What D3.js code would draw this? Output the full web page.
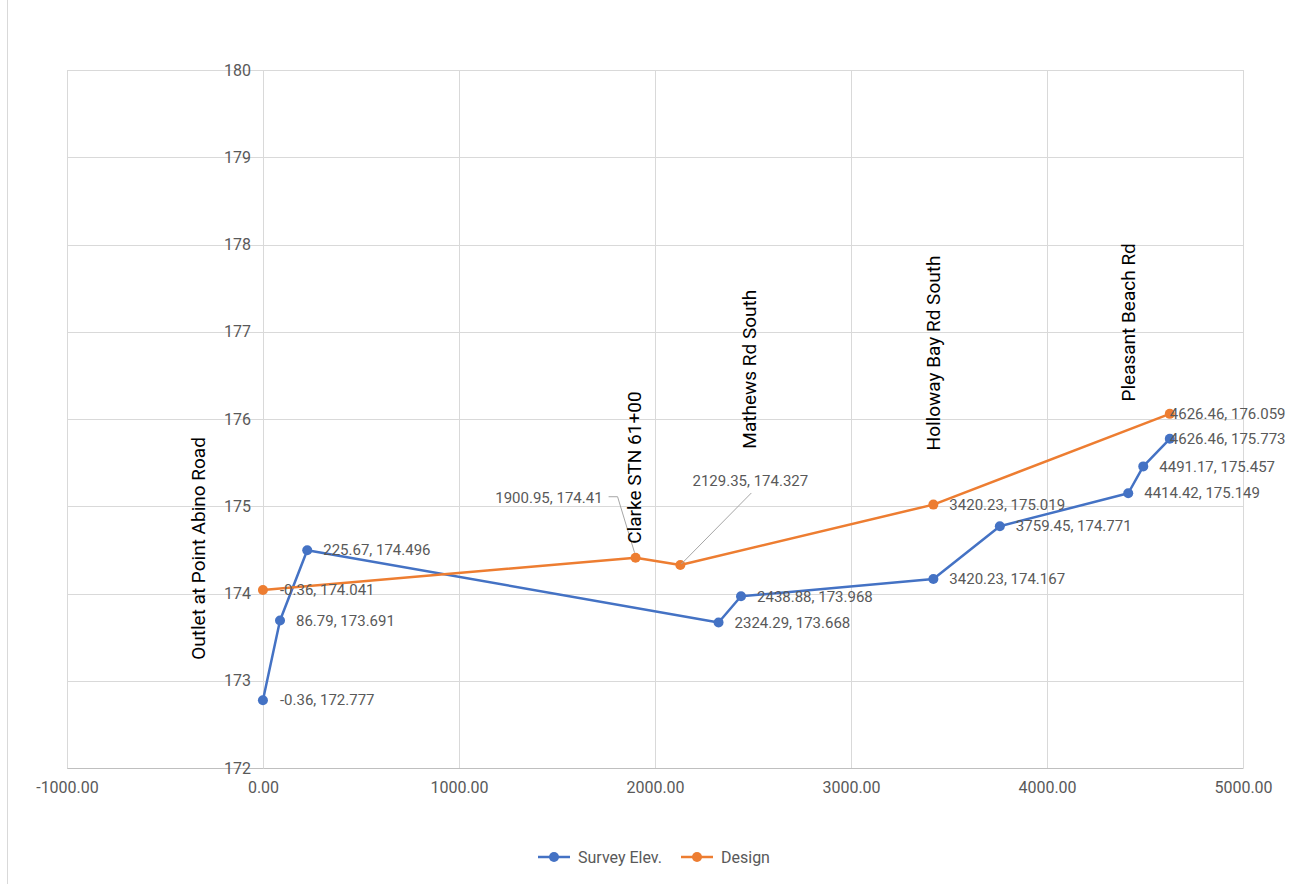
<!DOCTYPE html>
<html>
<head>
<meta charset="utf-8">
<script src="https://cdn.jsdelivr.net/npm/d3@7"></script>
<style>
  body { margin: 0; background: #fff; }
  #chart svg { display: block; }
</style>
</head>
<body>
<div id="chart"></div>
<script>
// data

var surveyX = [-0.36, 86.79, 225.67, 2324.29, 2438.88, 3420.23, 3759.45, 4414.42, 4491.17, 4626.46];
var surveyY = [172.777, 173.691, 174.496, 173.668, 173.968, 174.167, 174.771, 175.149, 175.457, 175.773];

var designX = [-0.36, 1900.95, 2129.35, 3420.23, 4626.46];
var designY = [174.041, 174.41, 174.327, 175.019, 176.059];

var xTicks = [-1000, 0, 1000, 2000, 3000, 4000, 5000];
var yTicks = [172, 173, 174, 175, 176, 177, 178, 179, 180];

var seriesNames = ["Survey Elev.", "Design"];
var seriesColors = ["#4472c4", "#ed7d31"];

// road annotations (text, station, elevation of the text's bottom end)
var annoText = ["Outlet at Point Abino Road", "Clarke STN 61+00", "Mathews Rd South", "Holloway Bay Rd South", "Pleasant Beach Rd"];
var annoX = [-332, 1893, 2480, 3418, 4413];
var annoY = [173.24, 174.57, 175.66, 175.64, 176.2];

//drawing the chart area

var svgWidth = 1293;
var svgHeight = 884;
var margin = { top: 70, right: 50, bottom: 116, left: 67 };
var width = svgWidth - margin.left - margin.right;
var height = svgHeight - margin.top - margin.bottom;

var tickFont = "'Liberation Sans Narrow', 'Roboto', sans-serif";
var labelFont = "Roboto, 'Liberation Sans', sans-serif";

var svg = d3.select("#chart")
  .append("svg")
  .attr("width", svgWidth)
  .attr("height", svgHeight);

// chart border on the left
svg.append("line")
  .attr("x1", 7.5).attr("x2", 7.5)
  .attr("y1", 0).attr("y2", svgHeight)
  .attr("stroke", "#d9d9d9");

var chart = svg.append("g")
  .attr("transform", "translate(" + margin.left + "," + margin.top + ")");

var x = d3.scaleLinear().domain([-1000, 5000]).range([0, width]);
var y = d3.scaleLinear().domain([172, 180]).range([height, 0]);

// gridlines
chart.append("g")
  .selectAll("line")
  .data(yTicks)
  .enter()
  .append("line")
  .attr("x1", 0).attr("x2", width)
  .attr("y1", function (d) { return Math.round(y(d)) + 0.5; })
  .attr("y2", function (d) { return Math.round(y(d)) + 0.5; })
  .attr("stroke", "#d9d9d9");

chart.append("g")
  .selectAll("line")
  .data(xTicks)
  .enter()
  .append("line")
  .attr("x1", function (d) { return Math.round(x(d)) + 0.5; })
  .attr("x2", function (d) { return Math.round(x(d)) + 0.5; })
  .attr("y1", 0).attr("y2", height)
  .attr("stroke", "#d9d9d9");

// axes
var bottomAxis = d3.axisBottom(x).tickValues(xTicks).tickSize(0).tickPadding(14)
  .tickFormat(function (d) { return d.toFixed(2); });
var leftAxis = d3.axisLeft(y).tickValues(yTicks).tickSize(0).tickPadding(12)
  .tickFormat(d3.format("d"));

var gx = chart.append("g")
  .attr("transform", "translate(0," + height + ")")
  .call(bottomAxis);
gx.select(".domain").attr("stroke", "#bfbfbf");

var gy = chart.append("g")
  .attr("transform", "translate(" + x(0) + ",0)")
  .call(leftAxis);
gy.select(".domain").attr("stroke", "#d9d9d9");

chart.selectAll(".tick text")
  .style("font-family", tickFont)
  .style("font-size", "16px")
  .attr("fill", "#595959");

// series
var surveyPts = surveyX.map(function (d, i) { return { x: d, y: surveyY[i] }; });
var designPts = designX.map(function (d, i) { return { x: d, y: designY[i] }; });
var allSeries = [surveyPts, designPts];

var line = d3.line()
  .x(function (d) { return x(d.x); })
  .y(function (d) { return y(d.y); });

allSeries.forEach(function (pts, s) {
  chart.append("path")
    .datum(pts)
    .attr("d", line)
    .attr("fill", "none")
    .attr("stroke", seriesColors[s])
    .attr("stroke-width", 2.5)
    .attr("stroke-linejoin", "round");

  chart.append("g")
    .selectAll("circle")
    .data(pts)
    .enter()
    .append("circle")
    .attr("cx", function (d) { return x(d.x); })
    .attr("cy", function (d) { return y(d.y); })
    .attr("r", 5)
    .attr("fill", seriesColors[s]);
});

// data labels
function labelText(d) {
  return d.x + ", " + d.y;
}

var surveyDx = [17, 16, 16, 16, 16, 16, 16, 16, 16, 0];
var designDx = [17, null, null, 16, 0];

chart.append("g")
  .selectAll("text")
  .data(surveyPts)
  .enter()
  .append("text")
  .attr("x", function (d, i) { return x(d.x) + surveyDx[i]; })
  .attr("y", function (d) { return y(d.y); })
  .attr("dy", "0.35em")
  .style("font-family", labelFont)
  .style("font-size", "15px")
  .attr("fill", "#595959")
  .text(labelText);

chart.append("g")
  .selectAll("text")
  .data(designPts.filter(function (d, i) { return designDx[i] !== null; }))
  .enter()
  .append("text")
  .attr("x", function (d) { return x(d.x) + designDx[designPts.indexOf(d)]; })
  .attr("y", function (d) { return y(d.y); })
  .attr("dy", "0.35em")
  .style("font-family", labelFont)
  .style("font-size", "15px")
  .attr("fill", "#595959")
  .text(labelText);

// two labels with leader lines
var p1 = designPts[1];
var p2 = designPts[2];

chart.append("text")
  .attr("x", x(p1.x) - 33)
  .attr("y", y(p1.y) - 60)
  .attr("dy", "0.35em")
  .attr("text-anchor", "end")
  .style("font-family", labelFont)
  .style("font-size", "15px")
  .attr("fill", "#595959")
  .text(labelText(p1));

chart.append("polyline")
  .attr("points", [
    [x(p1.x) - 27, y(p1.y) - 61],
    [x(p1.x) - 18, y(p1.y) - 61],
    [x(p1.x) - 1, y(p1.y) - 5]
  ].join(" "))
  .attr("fill", "none")
  .attr("stroke", "#a6a6a6");

chart.append("text")
  .attr("x", x(p2.x) + 70)
  .attr("y", y(p2.y) - 84)
  .attr("dy", "0.35em")
  .attr("text-anchor", "middle")
  .style("font-family", labelFont)
  .style("font-size", "15px")
  .attr("fill", "#595959")
  .text(labelText(p2));

chart.append("line")
  .attr("x1", x(p2.x) + 71)
  .attr("y1", y(p2.y) - 72)
  .attr("x2", x(p2.x) + 1)
  .attr("y2", y(p2.y) - 1)
  .attr("stroke", "#a6a6a6");

// rotated road names
chart.append("g")
  .selectAll("text")
  .data(annoText)
  .enter()
  .append("text")
  .attr("transform", function (d, i) {
    return "translate(" + x(annoX[i]) + "," + y(annoY[i]) + ") rotate(-90)";
  })
  .attr("dy", "0.35em")
  .style("font-family", labelFont)
  .style("font-size", "19px")
  .attr("fill", "#000")
  .text(function (d) { return d; });

// legend
var legend = svg.append("g")
  .attr("transform", "translate(0,857)");

var legendX = [538, 681];

seriesNames.forEach(function (name, i) {
  var g = legend.append("g").attr("transform", "translate(" + legendX[i] + ",0)");
  g.append("line")
    .attr("x1", 0).attr("x2", 32)
    .attr("y1", 0).attr("y2", 0)
    .attr("stroke", seriesColors[i])
    .attr("stroke-width", 2.5);
  g.append("circle")
    .attr("cx", 16).attr("cy", 0).attr("r", 5)
    .attr("fill", seriesColors[i]);
  g.append("text")
    .attr("x", 40)
    .attr("dy", "0.35em")
    .style("font-family", tickFont)
    .style("font-size", "16px")
    .attr("fill", "#595959")
    .text(name);
});
</script>
</body>
</html>
